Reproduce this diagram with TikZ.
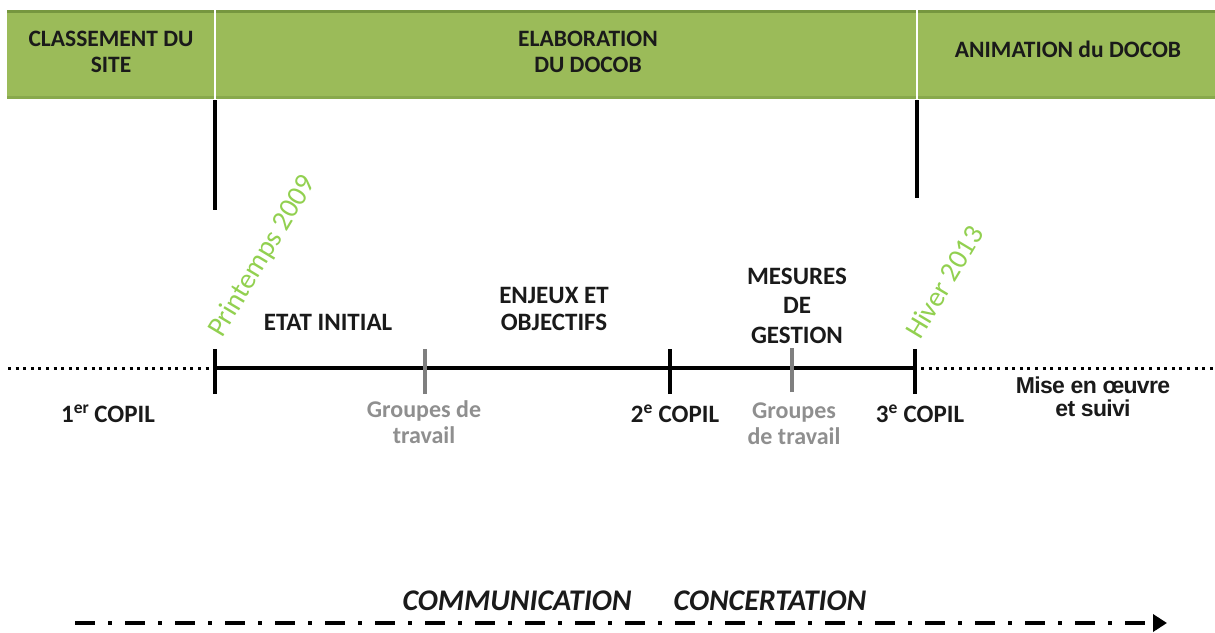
\documentclass[tikz,border=0pt]{standalone}
\usepackage{fontspec}
\setmainfont{Carlito}
\newfontfamily\arialf{Liberation Sans}[LetterSpace=-3]
\usetikzlibrary{arrows.meta}
\definecolor{bandgreen}{HTML}{9BBB59}
\definecolor{banddark}{HTML}{76963F}
\definecolor{datgreen}{HTML}{92D050}
\definecolor{tickgray}{HTML}{7F7F7F}
\definecolor{txtgray}{HTML}{8F8F8F}
\definecolor{ink}{HTML}{1A1A1A}
\tikzset{
  lbl/.style={font=\bfseries\fontsize{25}{27}\selectfont, align=center, inner sep=0pt, text=ink},
  bandlbl/.style={font=\bfseries\fontsize{23.5}{26}\selectfont, align=center, inner sep=0pt, text=ink},
  grp/.style={align=center, inner sep=0pt, text=txtgray, font=\bfseries\fontsize{24}{26}\selectfont},
  datelbl/.style={font=\fontsize{28.5}{30}\selectfont, text=datgreen, inner sep=0pt, anchor=base west, rotate=59},
  blktick/.style={line width=3.5pt, black},
  graytick/.style={line width=3.5pt, tickgray},
  dotline/.style={line width=3pt, dash pattern=on 3pt off 4.6pt, black},
  mainline/.style={line width=4.5pt, black},
  phase/.style={line width=3.5pt, black},
  divider/.style={line width=2.5pt, white},
  commlbl/.style={font=\bfseries\itshape\fontsize{30}{31}\selectfont, inner sep=0pt, text=ink},
  commline/.style={line width=4pt, dash pattern=on 20pt off 13pt on 4pt off 13pt, -{Triangle[length=14pt,width=17pt]}}
}
\begin{document}
\begin{tikzpicture}[x=1pt,y=-1pt]
\useasboundingbox (0,0) rectangle (1215,632);
% band
\fill[bandgreen] (7,10) rectangle (1215,99);
\fill[banddark] (7,10) rectangle (1215,13);
\fill[banddark!50!bandgreen] (7,96) rectangle (1215,99);
\coordinate (d1t) at (215,10); \coordinate (d1b) at (215,99);
\coordinate (d2t) at (917,10); \coordinate (d2b) at (917,99);
\draw[divider] (d1t) -- (d1b);
\draw[divider] (d2t) -- (d2b);
\node[bandlbl] (classement) at (111,51.5) {CLASSEMENT DU\\SITE};
\node[bandlbl] (elaboration) at (588,51.5) {ELABORATION\\DU DOCOB};
\node[bandlbl] (animation) at (1068,49) {ANIMATION du DOCOB};
% phase lines
\coordinate (p1t) at (215,100); \coordinate (p1b) at (215,210);
\coordinate (p2t) at (917,100); \coordinate (p2b) at (917,198);
\draw[phase] (p1t) -- (p1b);
\draw[phase] (p2t) -- (p2b);
% timeline
\coordinate (tl0) at (8,368);
\coordinate (t1) at (215,368);
\coordinate (g1) at (425,368);
\coordinate (t2) at (670,368);
\coordinate (g2) at (792,368);
\coordinate (t3) at (915,368);
\coordinate (tl9) at (1215,368);
\draw[dotline] (tl0) -- ([xshift=-4pt]t1);
\draw[mainline] (t1) -- (t3);
\draw[dotline] ([xshift=6pt]t3) -- (tl9);
\draw[blktick] ([yshift=-26pt]t1) -- ([yshift=19pt]t1);
\draw[graytick] ([yshift=-26pt]g1) -- ([yshift=19pt]g1);
\draw[blktick] ([yshift=-26pt]t2) -- ([yshift=19pt]t2);
\draw[graytick] ([yshift=-24pt]g2) -- ([yshift=20pt]g2);
\draw[blktick] ([yshift=-26pt]t3) -- ([yshift=19pt]t3);
% dates
\node[datelbl] (printemps) at (222,339) {Printemps 2009};
\node[datelbl] (hiver) at (920,341) {Hiver 2013};
% phase labels
\node[lbl] (etat) at (328,322.5) {ETAT INITIAL};
\node[lbl] (enjeux) at (554,309) {ENJEUX ET\\OBJECTIFS};
\node[lbl, font=\bfseries\fontsize{25}{29.5}\selectfont] (mesures) at (797,305.5) {MESURES\\DE\\GESTION};
% copil labels
\node[lbl] (copil1) at (108,414) {1\textsuperscript{er}\hspace{5pt}COPIL};
\node[grp] (grp1) at (424,422) {Groupes de\\travail};
\node[lbl] (copil2) at (675,414) {2\textsuperscript{e} COPIL};
\node[grp] (grp2) at (794,424) {Groupes\\de travail};
\node[lbl] (copil3) at (920,414) {3\textsuperscript{e} COPIL};
\node[align=center, inner sep=0pt, text=ink, font=\arialf\bfseries\fontsize{23}{23.5}\selectfont] (mise) at (1093,397) {Mise en œuvre\\et suivi};
% communication
\node[commlbl] (comm) at (517,601) {COMMUNICATION};
\node[commlbl] (conc) at (770,601) {CONCERTATION};
\coordinate (ca) at (75,623);
\coordinate (cb) at (1167,623);
\draw[commline] (ca) -- (cb);
\end{tikzpicture}
\end{document}
